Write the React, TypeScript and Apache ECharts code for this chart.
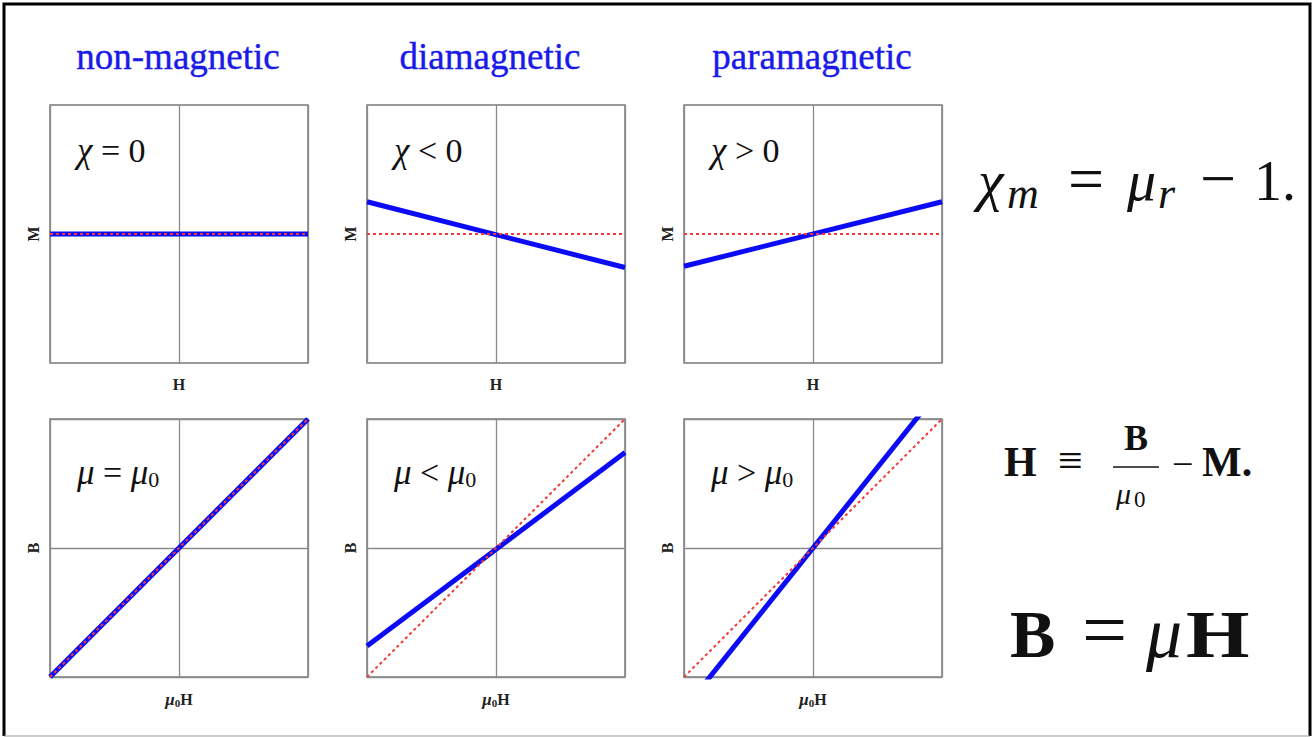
import React, { useEffect, useRef } from "react";
import * as echarts from "echarts";

// Field range shared by every panel (H and μ0H normalised to ±1)
const fieldRange = [-1, 1];

// Column headings
const materialNames = ["non-magnetic", "diamagnetic", "paramagnetic"];

// Magnetisation M against H (top row)
const nonMagneticM = [[-1, 0], [1, 0]];
const diamagneticM = [[-1, 0.25], [1, -0.26]];
const paramagneticM = [[-1, -0.25], [1, 0.25]];
const zeroM = [[-1, 0], [1, 0]];

// Flux density B against μ0H (bottom row)
const nonMagneticB = [[-1, -1], [1, 1]];
const diamagneticB = [[-1, -0.76], [1, 0.74]];
const paramagneticB = [[-1, -1.25], [1, 1.25]];
const vacuumB = [[-1, -1], [1, 1]];

const topCurves = [nonMagneticM, diamagneticM, paramagneticM];
const bottomCurves = [nonMagneticB, diamagneticB, paramagneticB];

const SERIF = "'Liberation Serif', 'DejaVu Serif', serif";
const INK = "#111";

// One piece of a typeset formula, placed by its baseline
function glyph(text: string, x: number, baseline: number, fontSize: number, opts: any = {}) {
  return {
    type: "text",
    x,
    y: baseline - 0.88 * fontSize,
    scaleX: opts.scaleX || 1,
    style: {
      text,
      fontFamily: SERIF,
      fontSize,
      fontStyle: opts.italic ? "italic" : "normal",
      fontWeight: opts.bold ? "bold" : "normal",
      fill: INK,
      align: opts.align || "left",
      verticalAlign: "top",
    },
  };
}

export default function App() {
  const ref = useRef<HTMLDivElement>(null);

  useEffect(() => {
    if (!ref.current) return;
    const chart = echarts.init(ref.current, null, { renderer: "svg" });

    const lefts = [50, 367, 684];
    const tops = [105, 419];
    const size = 258;

    const grids: any[] = [];
    const xAxes: any[] = [];
    const yAxes: any[] = [];
    const series: any[] = [];

    const axisNameStyle = {
      fontFamily: SERIF,
      fontWeight: "bold",
      fontSize: 16,
      color: "#222",
      rich: {
        mu: { fontFamily: SERIF, fontStyle: "italic", fontWeight: "bold", fontSize: 17, color: "#222" },
        sub: { fontFamily: SERIF, fontWeight: "bold", fontSize: 11, color: "#222", padding: [7, 0, 0, 0] },
        b: { fontFamily: SERIF, fontWeight: "bold", fontSize: 16, color: "#222" },
      },
    };

    tops.forEach((top, row) => {
      lefts.forEach((left, col) => {
        const idx = row * 3 + col;
        grids.push({
          left,
          top,
          width: size,
          height: size,
          show: true,
          borderColor: "#7a7a7a",
          borderWidth: 1.5,
          backgroundColor: "#fff",
        });
        xAxes.push({
          type: "value",
          gridIndex: idx,
          min: fieldRange[0],
          max: fieldRange[1],
          interval: 1,
          axisLine: { show: false },
          axisTick: { show: false },
          axisLabel: { show: false },
          splitLine: { show: true, lineStyle: { color: "#8a8a8a", width: 1.3 } },
          name: row === 0 ? "H" : "{mu|μ}{sub|0}{b|H}",
          nameLocation: "middle",
          nameGap: 13,
          nameTextStyle: axisNameStyle,
        });
        yAxes.push({
          type: "value",
          gridIndex: idx,
          min: fieldRange[0],
          max: fieldRange[1],
          interval: 1,
          axisLine: { show: false },
          axisTick: { show: false },
          axisLabel: { show: false },
          splitLine: { show: row === 1, lineStyle: { color: "#8a8a8a", width: 1.3 } },
          name: row === 0 ? "M" : "B",
          nameLocation: "middle",
          nameRotate: 90,
          nameGap: 9,
          nameTextStyle: axisNameStyle,
        });
        const curve = row === 0 ? topCurves[col] : bottomCurves[col];
        const reference = row === 0 ? zeroM : vacuumB;
        series.push({
          type: "line",
          xAxisIndex: idx,
          yAxisIndex: idx,
          data: curve,
          symbol: "none",
          clip: true,
          z: 3,
          lineStyle: { color: "#0b0bf5", width: 5 },
        });
        series.push({
          type: "line",
          xAxisIndex: idx,
          yAxisIndex: idx,
          data: reference,
          symbol: "none",
          clip: true,
          z: 4,
          lineStyle: { color: "#f03a3a", width: 2, type: [3, 3] },
        });
      });
    });

    const titleCenters = [178, 490, 812];
    const panelLabels = [
      ["{i|χ}{o| = }0", "{i|χ}{o| < }0", "{i|χ}{o| > }0"],
      ["{i|μ}{o| = }{i|μ}{s|0}", "{i|μ}{o| < }{i|μ}{s|0}", "{i|μ}{o| > }{i|μ}{s|0}"],
    ];
    const panelRich = {
      i: { fontFamily: SERIF, fontStyle: "italic", fontSize: 35, fill: INK },
      o: { fontFamily: SERIF, fontSize: 34, fill: INK },
      s: { fontFamily: SERIF, fontSize: 22, fill: INK, padding: [15, 0, 0, 0] },
    };

    const graphic: any[] = [];
    materialNames.forEach((name, i) => {
      graphic.push({
        type: "text",
        x: titleCenters[i],
        y: 56,
        style: {
          text: name,
          fontFamily: SERIF,
          fontSize: 37,
          fill: "#1a1ae8",
          stroke: "#1a1ae8",
          lineWidth: 0.4,
          align: "center",
          verticalAlign: "middle",
        },
      });
    });
    panelLabels.forEach((labels, row) => {
      labels.forEach((label, col) => {
        graphic.push({
          type: "text",
          x: lefts[col] + 27,
          y: row === 0 ? 150 : 472,
          style: {
            text: label,
            rich: panelRich,
            fontFamily: SERIF,
            fontSize: 34,
            fill: INK,
            verticalAlign: "middle",
          },
        });
      });
    });

    // χm = μr − 1.
    graphic.push(glyph("χ", 978, 203, 58, { italic: true }));
    graphic.push(glyph("m", 1007, 210, 44, { italic: true }));
    graphic.push(glyph("=", 1068, 203, 64));
    graphic.push(glyph("μ", 1127, 203, 58, { italic: true }));
    graphic.push(glyph("r", 1158, 210, 44, { italic: true }));
    graphic.push(glyph("−", 1200, 203, 64));
    graphic.push(glyph("1.", 1254, 202, 56));

    // H ≡ B/μ0 − M.
    graphic.push(glyph("H", 1004, 478, 42, { bold: true }));
    graphic.push(glyph("≡", 1058, 477, 44));
    graphic.push(glyph("B", 1136, 452, 36, { bold: true, align: "center" }));
    graphic.push({
      type: "line",
      shape: { x1: 1113, y1: 467, x2: 1159, y2: 467 },
      style: { stroke: INK, lineWidth: 1.5 },
    });
    graphic.push(glyph("μ", 1116, 505, 30, { italic: true }));
    graphic.push(glyph("0", 1134, 508, 23));
    graphic.push(glyph("−", 1172, 478, 38));
    graphic.push(glyph("M.", 1202, 478, 42, { bold: true }));

    // B = μH
    graphic.push(glyph("B", 1010, 660, 68, { bold: true }));
    graphic.push(glyph("=", 1082, 660, 80));
    graphic.push(glyph("μ", 1146, 660, 72, { italic: true }));
    graphic.push(glyph("H", 1186, 660, 68, { bold: true, scaleX: 1.2 }));

    // Frame around the figure
    graphic.push({
      type: "polyline",
      shape: { points: [[4, 736], [4, 4], [1310, 4], [1310, 736]] },
      style: { stroke: "#000", lineWidth: 3, fill: null },
    });
    graphic.push({
      type: "line",
      shape: { x1: 4, y1: 736, x2: 1310, y2: 736 },
      style: { stroke: "#999", lineWidth: 1 },
    });

    chart.setOption({
      animation: false,
      backgroundColor: "#fff",
      grid: grids,
      xAxis: xAxes,
      yAxis: yAxes,
      series,
      graphic,
    });

    return () => chart.dispose();
  }, []);

  return (
    <div
      ref={ref}
      style={{ position: "fixed", left: 0, top: 0, width: 1314, height: 737 }}
    />
  );
}
